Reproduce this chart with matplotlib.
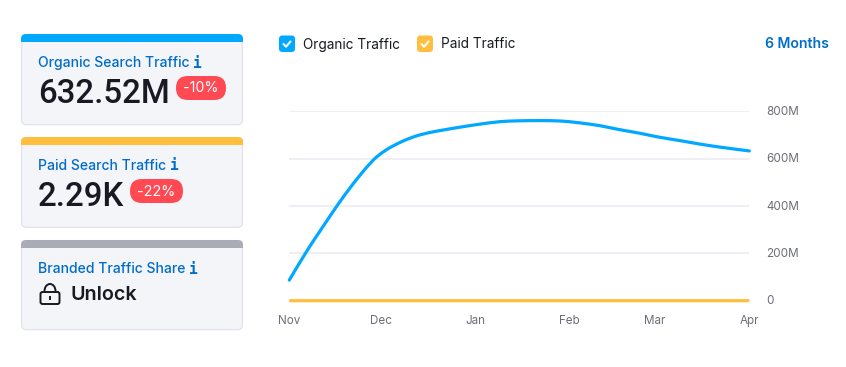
import matplotlib
matplotlib.use("Agg")
import numpy as np
import matplotlib.dates as mdates
from matplotlib import pyplot as plt
from matplotlib.patches import FancyBboxPatch, Rectangle, Arc, PathPatch
from matplotlib.path import Path
from matplotlib.transforms import ScaledTranslation
from datetime import date

plt.rcParams['font.family'] = ['Inter', 'DejaVu Sans']

organic_dates = ["2022-11-01", "2022-11-06", "2022-11-12", "2022-11-17", "2022-11-22", "2022-11-28",
                 "2022-12-01", "2022-12-05", "2022-12-11", "2022-12-16", "2022-12-21", "2022-12-27",
                 "2023-01-02", "2023-01-09", "2023-01-15", "2023-01-22", "2023-01-29", "2023-02-04",
                 "2023-02-11", "2023-02-17", "2023-02-24", "2023-03-02", "2023-03-09", "2023-03-15",
                 "2023-03-22", "2023-04-01"]
organic_vals = [87, 197, 312, 408, 496, 589,
                622, 655, 690, 708, 720, 733,
                745, 757, 760, 761, 760, 752,
                740, 723, 708, 691, 677, 663,
                649, 632.52]

paid_dates = ["2022-11-01", "2022-12-01", "2023-01-01", "2023-02-01", "2023-03-01", "2023-04-01"]
paid_vals = [0.003, 0.003, 0.003, 0.003, 0.003, 0.00229]

month_ticks = ["2022-11-01", "2022-12-01", "2023-01-01", "2023-02-01", "2023-03-01", "2023-04-01"]
month_labels = ["Nov", "Dec", "Jan", "Feb", "Mar", "Apr"]
y_ticks = [0, 200, 400, 600, 800]
y_labels = ["0", "200M", "400M", "600M", "800M"]

BLUE = "#00a8ff"
YELLOW = "#ffbe3d"
GRAY = "#a9abb6"
LINK = "#006dca"
DARK = "#171a22"
RED = "#ff4953"
TICK = "#6c6e79"

W, H = 846, 367


def to_num(days):
    return [mdates.date2num(date.fromisoformat(d)) for d in days]


def rounded(ax, x0, y0, x1, y1, r, **kw):
    p = FancyBboxPatch((x0 + r, y0 + r), x1 - x0 - 2 * r, y1 - y0 - 2 * r,
                       boxstyle="round,pad=%f,rounding_size=%f" % (r, r), **kw)
    ax.add_patch(p)
    return p


def card(ax, top, bottom, color):
    rounded(ax, 21.5, top + 0.5, 242.5, bottom, 5, fc="#f4f5f9", ec="#e0e1e9", lw=0.8, zorder=1)
    # stripe is a rounded box cut off below 8px
    stripe = rounded(ax, 21, top, 243, top + 24, 5, fc=color, ec="none", zorder=2)
    clip = Rectangle((21, top), 222, 8, transform=ax.transData)
    stripe.set_clip_path(clip)


def info(ax, x, y):
    ax.text(x, y, "i", family="DejaVu Sans Mono", weight="bold", fontsize=10.5, color=LINK,
            ha="center", va="center", zorder=5)


def checkbox(ax, x, color):
    rounded(ax, x, 35.5, x + 16, 52, 3.5, fc=color, ec="none", zorder=3)
    ax.plot([x + 4.5, x + 7, x + 11.5], [44, 46.7, 41.5], color="white", lw=1.5, zorder=4,
            solid_capstyle="round", solid_joinstyle="round")


def smooth_path(xs, ys):
    # quadratic segments through the midpoints, so the read points don't show as corners
    verts = [(xs[0], ys[0])]
    codes = [Path.MOVETO]
    for i in range(1, len(xs) - 1):
        verts += [(xs[i], ys[i]), ((xs[i] + xs[i + 1]) / 2, (ys[i] + ys[i + 1]) / 2)]
        codes += [Path.CURVE3, Path.CURVE3]
    verts.append((xs[-1], ys[-1]))
    codes.append(Path.LINETO)
    return Path(verts, codes)


def main():
    fig = plt.figure(figsize=(W / 100, H / 100), dpi=100, facecolor="white")

    # page furniture, in pixel coordinates
    bg = fig.add_axes([0, 0, 1, 1])
    bg.set_xlim(0, W)
    bg.set_ylim(H, 0)
    bg.axis("off")

    card(bg, 34, 124.7, BLUE)
    card(bg, 137, 227.3, YELLOW)
    card(bg, 240, 329.7, GRAY)

    title = dict(fontsize=10.1, weight=500, color=LINK, va="center", ha="left", zorder=5)
    bg.text(38, 63, "Organic Search Traffic", **title)
    info(bg, 197, 63)
    bg.text(38, 166, "Paid Search Traffic", **title)
    info(bg, 174, 166)
    bg.text(38, 269, "Branded Traffic Share", **title)
    info(bg, 193, 269)

    big = dict(family="Roboto", fontsize=23.8, weight=500, color=DARK, va="baseline", zorder=5)
    bg.text(38, 103, "632.52M", **big)
    bg.text(38, 206, "2.29K", **big)

    rounded(bg, 176, 76, 226, 100, 12, fc=RED, ec="none", zorder=4)
    bg.text(201, 88.5, "-10%", fontsize=10.3, color="white", ha="center", va="center", zorder=5)
    rounded(bg, 130, 179, 183, 203, 12, fc=RED, ec="none", zorder=4)
    bg.text(156.5, 191.5, "-22%", fontsize=10.3, color="white", ha="center", va="center", zorder=5)

    # lock icon
    rounded(bg, 40.5, 292, 59.5, 304, 2, fc="none", ec=DARK, lw=1.4, zorder=5)
    bg.add_patch(Arc((50, 291), 11, 14, theta1=180, theta2=360, ec=DARK, lw=1.4, zorder=5))
    bg.plot([50, 50], [296.5, 299], color=DARK, lw=1.4, zorder=5)
    bg.text(70, 295, "Unlock", fontsize=14.2, weight=600, color=DARK, va="center", zorder=5)

    # legend row
    checkbox(bg, 279, BLUE)
    bg.text(303, 44.5, "Organic Traffic", fontsize=9.8, color=DARK, va="center", zorder=5)
    checkbox(bg, 417, YELLOW)
    bg.text(441, 44.5, "Paid Traffic", fontsize=9.8, color=DARK, va="center", zorder=5)
    bg.text(829, 44.5, "6 Months", fontsize=10.1, weight=600, color=LINK, va="center", ha="right", zorder=5)

    # chart
    left, right, top, bottom = 289.3, 749.3, 111.3, 300.7
    ax = fig.add_axes([left / W, 1 - bottom / H, (right - left) / W, (bottom - top) / H])
    ax.patch.set_alpha(0)
    ax.add_patch(PathPatch(smooth_path(to_num(organic_dates), organic_vals), fc="none", ec=BLUE, lw=2.3,
                           clip_on=False, capstyle="round", joinstyle="round", zorder=3))
    ax.plot(to_num(paid_dates), paid_vals, color=YELLOW, lw=2.3, clip_on=False,
            solid_capstyle="butt", zorder=3)

    ax.set_xlim(to_num(["2022-11-01", "2023-04-01"]))
    ax.set_ylim(0, 800)
    ax.set_xticks(to_num(month_ticks))
    ax.set_xticklabels(month_labels, fontsize=8.4, color=TICK)
    ax.yaxis.tick_right()
    ax.set_yticks(y_ticks)
    ax.set_yticklabels(y_labels, fontsize=8.4, color=TICK)
    ax.tick_params(axis="x", length=0, pad=10)
    ax.tick_params(axis="y", length=0, pad=12)
    up = ScaledTranslation(0, 1 / 100, fig.dpi_scale_trans)
    for lab in ax.get_yticklabels():
        lab.set_transform(lab.get_transform() + up)
    ax.grid(axis="y", color="#e9eaf1", lw=1.1)
    ax.set_axisbelow(True)
    for s in ax.spines.values():
        s.set_visible(False)

    fig.savefig("out.png", dpi=100)


if __name__ == "__main__":
    main()
